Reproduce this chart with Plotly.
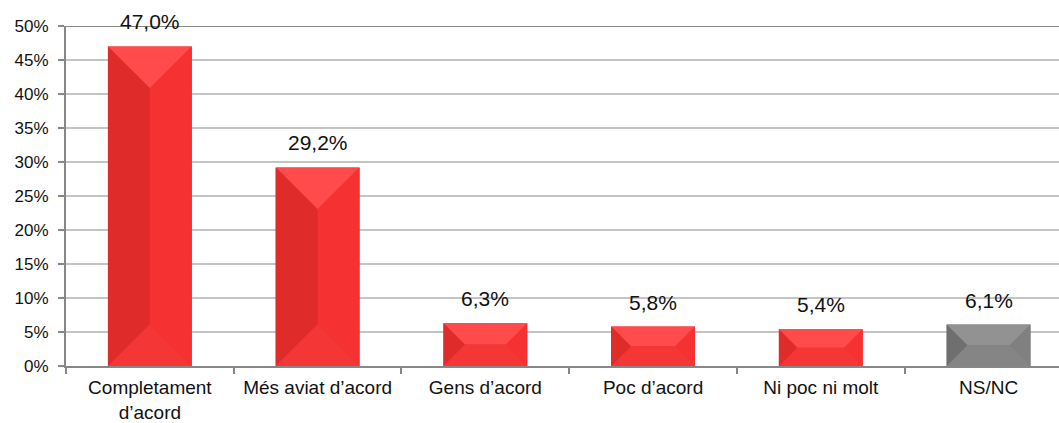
import plotly.graph_objects as go

categories = ["Completament<br>d’acord", "Més aviat d’acord", "Gens d’acord",
              "Poc d’acord", "Ni poc ni molt", "NS/NC"]
values = [47.0, 29.2, 6.3, 5.8, 5.4, 6.1]
labels = ["47,0%", "29,2%", "6,3%", "5,8%", "5,4%", "6,1%"]
y_ticks = [0, 5, 10, 15, 20, 25, 30, 35, 40, 45, 50]

W, H = 1059, 423
ML, MR, MT, MB = 66, 0, 26, 57
X_RANGE = [-0.5, 5.42]
Y_RANGE = [0, 50]
BAR_W = 0.5

px_per_x = (W - ML - MR) / (X_RANGE[1] - X_RANGE[0])
px_per_y = (H - MT - MB) / (Y_RANGE[1] - Y_RANGE[0])

red = dict(face="#F02E2E", top="#FF4B4B", bottom="#F43636", left="#E02B2B", right="#F53131")
gray = dict(face="#7C7C7C", top="#929292", bottom="#858585", left="#6F6F6F", right="#808080")
styles = [red] * 5 + [gray]

xs = list(range(len(categories)))

fig = go.Figure()
fig.add_trace(go.Bar(
    x=xs, y=values, width=BAR_W,
    marker=dict(color=[s["face"] for s in styles], line=dict(width=0)),
    hoverinfo="skip", showlegend=False,
))

shapes = []
for x, v, s in zip(xs, values, styles):
    xl, xr = x - BAR_W / 2, x + BAR_W / 2
    half_w_px = BAR_W / 2 * px_per_x
    h_px = v * px_per_y
    d = min(half_w_px, h_px / 2)
    dx = d / px_per_x
    dy = d / px_per_y
    facets = [
        ("top", [(xl, v), (xr, v), (xr - dx, v - dy), (xl + dx, v - dy)]),
        ("bottom", [(xl, 0), (xr, 0), (xr - dx, dy), (xl + dx, dy)]),
        ("left", [(xl, 0), (xl, v), (xl + dx, v - dy), (xl + dx, dy)]),
        ("right", [(xr, 0), (xr, v), (xr - dx, v - dy), (xr - dx, dy)]),
    ]
    for name, pts in facets:
        path = "M " + " L ".join(f"{px},{py}" for px, py in pts) + " Z"
        shapes.append(dict(type="path", xref="x", yref="y", path=path,
                           fillcolor=s[name], line=dict(width=0), layer="above"))

# darker top border line at 50%
shapes.append(dict(type="line", xref="paper", yref="y", x0=0, x1=1, y0=50, y1=50,
                   line=dict(color="#878787", width=2)))

annotations = []
for x, v, t in zip(xs, values, labels):
    annotations.append(dict(x=x, y=v, text=t, showarrow=False, xref="x", yref="y",
                            yanchor="bottom", yshift=11,
                            font=dict(family="Liberation Sans, Arial", size=21, color="#111111")))

fig.update_layout(
    width=W, height=H,
    margin=dict(l=ML, r=MR, t=MT, b=MB, pad=0, autoexpand=False),
    paper_bgcolor="white", plot_bgcolor="white",
    shapes=shapes, annotations=annotations,
    bargap=0.5,
    font=dict(family="Liberation Sans, Arial", color="#111111"),
    xaxis=dict(
        range=X_RANGE, tickmode="array", tickvals=xs, ticktext=categories,
        ticks="", showgrid=False, zeroline=False, automargin=False,
        showline=True, linecolor="#878787", linewidth=2,
        tickfont=dict(size=19, color="#111111"),
        ticklabelstandoff=3,
        minor=dict(tickmode="array", tickvals=[-0.5, 0.5, 1.5, 2.5, 3.5, 4.5, 5.5],
                   ticks="outside", ticklen=6, tickcolor="#878787", tickwidth=1.5,
                   showgrid=False),
    ),
    yaxis=dict(
        range=Y_RANGE, tickmode="array", tickvals=y_ticks,
        ticktext=[f"{t}%" for t in y_ticks], automargin=False,
        ticks="outside", ticklen=6, tickcolor="#878787", tickwidth=1.5,
        showgrid=True, gridcolor="#C4C4C4", gridwidth=1.5,
        zeroline=False, showline=True, linecolor="#878787", linewidth=2,
        tickfont=dict(size=17, color="#111111"),
        ticklabelstandoff=6,
    ),
)

fig.write_html("out.html", config={"displayModeBar": False},
               post_script="document.body.style.margin='0';document.body.style.overflow='hidden';")
